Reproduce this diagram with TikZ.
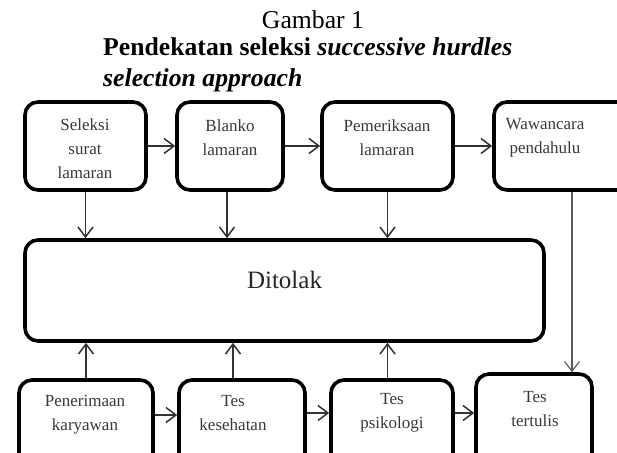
\documentclass[tikz,border=0pt]{standalone}
\usepackage{fontspec}
\setmainfont{Liberation Serif}
\usetikzlibrary{arrows.meta}

\begin{document}
\begin{tikzpicture}[x=1pt, y=-1pt,
    box/.style={draw, line width=3.6pt, rounded corners=13pt, inner sep=0pt},
    txt/.style={align=center, text=black!78, font=\fontsize{17}{24}\selectfont},
    arr/.style={-{Straight Barb[length=10pt,width=15pt]}, line width=1.5pt, draw=black!80}]
    \useasboundingbox (0,0) rectangle (617,452);
    \clip (0,0) rectangle (617,452);
    \node[font=\fontsize{25.7}{30}\selectfont, anchor=base] (jdl) at (313,29) {Gambar 1};
    \node[font=\fontsize{25.7}{31}\selectfont\bfseries, align=left, anchor=north west, inner sep=0pt] (sub) at (103,37) {Pendekatan seleksi \textit{successive hurdles}\\\textit{selection approach}};
    \node[box, minimum width=121pt, minimum height=88pt] (b1) at (85.5,146) {};
    \node[box, minimum width=106pt, minimum height=88pt] (b2) at (230,146) {};
    \node[box, minimum width=131pt, minimum height=88pt] (b3) at (387.5,146) {};
    \node[box, minimum width=156pt, minimum height=88pt] (b4) at (572,146) {};
    \node[box, minimum width=519pt, minimum height=101pt] (d) at (284.5,290.5) {};
    \node[box, minimum width=134pt, minimum height=100pt] (b5) at (86,430) {};
    \node[box, minimum width=126pt, minimum height=100pt] (b6) at (242,430) {};
    \node[box, minimum width=122pt, minimum height=100pt] (b7) at (392,430) {};
    \node[box, minimum width=116pt, minimum height=106pt] (b8) at (534,427) {};
    \node[txt] (t1) at (85,149) {Seleksi\\surat\\lamaran};
    \node[txt] (t2) at (230,137.5) {Blanko\\lamaran};
    \node[txt] (t3) at (387,137.5) {Pemeriksaan\\lamaran};
    \node[txt] (t4) at (545,137.5) {Wawancara\\pendahulu};
    \node[font=\fontsize{25}{30}\selectfont, text=black!85, anchor=base] (td) at (284.5,288) {Ditolak};
    \node[txt] (t5) at (85,415) {Penerimaan\\karyawan};
    \node[txt] (t6) at (233,413) {Tes\\kesehatan};
    \node[txt] (t7) at (392,413) {Tes\\psikologi};
    \node[txt] (t8) at (535,409) {Tes\\tertulis};
    \draw[arr] (b1) -- (b2);
    \draw[arr] (b2) -- (b3);
    \draw[arr] (b3) -- (b4);
    \draw[arr] (b1.south) -- (b1.south |- d.north);
    \draw[arr] ([xshift=-3pt]b2.south) -- ([xshift=-3pt]b2.south |- d.north);
    \draw[arr] (b3.south) -- (b3.south |- d.north);
    \draw[arr, line width=1.1pt, draw=black!65] (b4.south) -- (b4.south |- b8.north);
    \draw[arr] (b5.north) -- (b5.north |- d.south);
    \draw[arr] (t6 |- b6.north) -- (t6 |- d.south);
    \draw[arr] (b3 |- b7.north) -- (b3 |- d.south);
    \draw[arr] (b5.east |- t5) -- (b6.west |- t5);
    \draw[arr] (b6.east |- t6) -- (b7.west |- t6);
    \draw[arr] (b7.east |- t7) -- (b8.west |- t7);
\end{tikzpicture}
\end{document}
